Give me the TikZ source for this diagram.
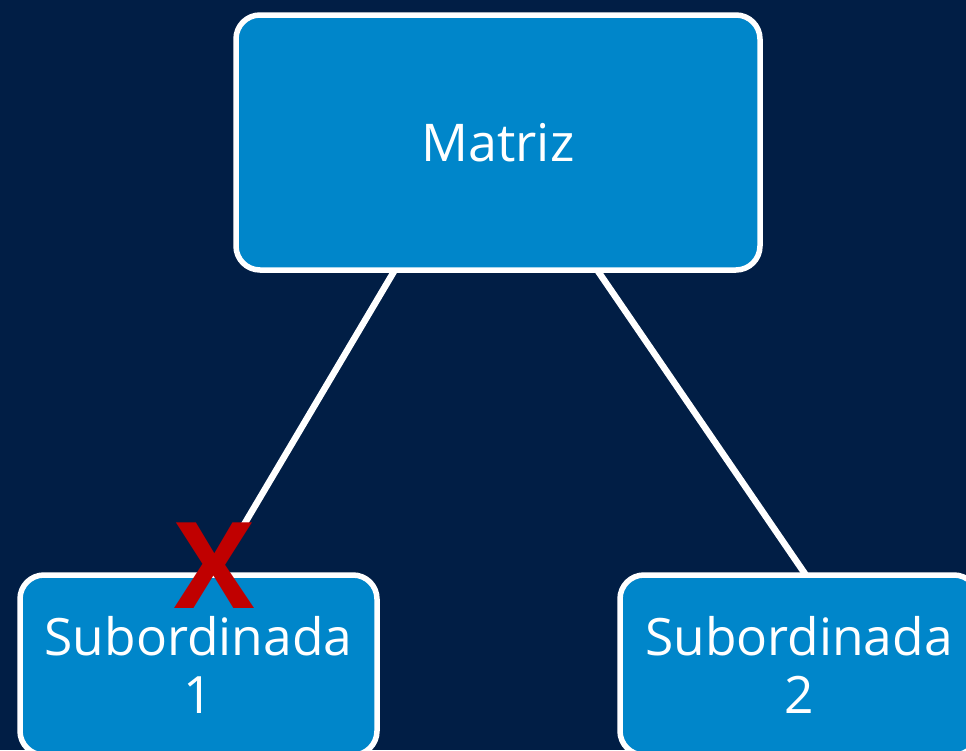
\documentclass[tikz,border=0pt]{standalone}
\usepackage{fontspec}
\setmainfont{Open Sans}
\definecolor{navy}{HTML}{011E45}
\definecolor{boxblue}{HTML}{0086CA}
\definecolor{xred}{HTML}{C00000}
\begin{document}
\begin{tikzpicture}[x=1pt,y=-1pt,
  box/.style={draw=white,line width=5.5pt,fill=boxblue,rounded corners=24pt,
    text=white,align=center,inner sep=0pt},
  conn/.style={draw=white,line width=6.5pt}]
\fill[navy] (0,0) rectangle (966,750);
\useasboundingbox (0,0) rectangle (966,750);
\clip (0,0) rectangle (966,750);
\node[box,minimum width=524pt,minimum height=255pt,
  font=\fontsize{52}{58}\selectfont] (top) at (498,142.5) {Matriz};
\node[box,minimum width=357pt,minimum height=180pt,
  font=\fontsize{51.5}{58}\selectfont] (sub1) at (198.5,665) {Subordinada\\1};
\node[box,minimum width=358pt,minimum height=180pt,
  font=\fontsize{51.5}{58}\selectfont] (sub2) at (799,665) {Subordinada\\2};
\draw[conn] ([xshift=-103pt,yshift=3pt]top.south) -- ([xshift=15.5pt,yshift=-3pt]sub1.north);
\draw[conn] ([xshift=99pt,yshift=3pt]top.south) -- ([xshift=7pt,yshift=-3pt]sub2.north);
\node[text=xred,font=\fontsize{120}{120}\selectfont\bfseries,inner sep=0pt] (x) at (215,566) {X};
\end{tikzpicture}
\end{document}
